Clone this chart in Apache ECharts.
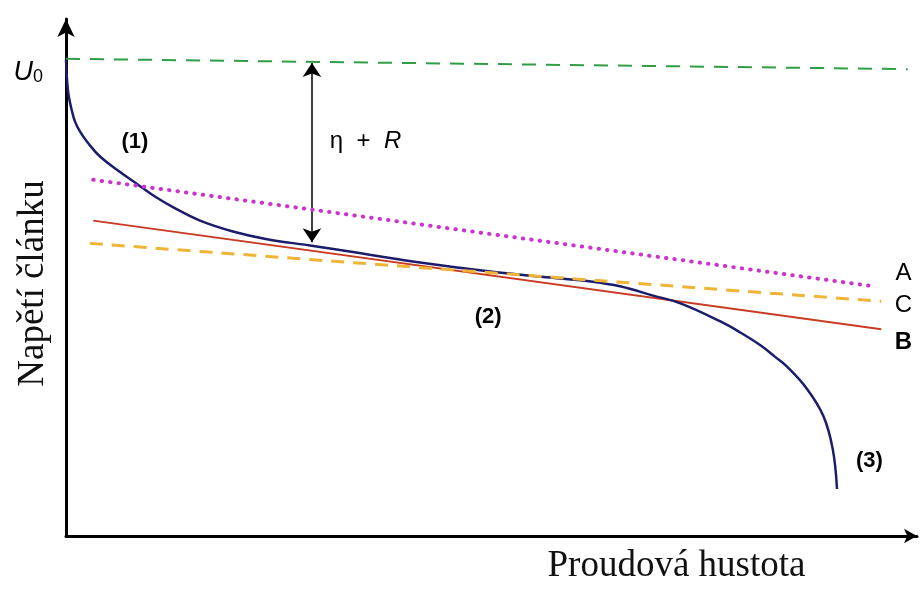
<!DOCTYPE html>
<html><head><meta charset="utf-8">
<script src="https://cdn.jsdelivr.net/npm/echarts@6/dist/echarts.min.js"></script>
<style>html,body{margin:0;padding:0;background:#fff}#c{width:923px;height:590px}</style>
</head><body><div id="c"></div>
<script>
// polarization curve: current density (x) vs cell voltage (y), arbitrary units
const curveX = [0, 0.15, 0.32, 0.67, 1.05, 1.65, 2.59, 4.0, 6.35, 8.34, 10.22, 12.57, 15.75, 19.62, 23.62, 28.67, 32.2, 41.6, 50.6, 56.9, 61.9, 65.1, 69.0, 72.2, 76.9, 79.2, 81.6, 83.3, 84.7, 87.1, 89.0, 90.1, 90.6];
const curveY = [92.2, 87.6, 85.1, 82.4, 80.2, 78.2, 76.0, 73.4, 70.4, 68.1, 65.9, 63.6, 61.0, 58.9, 57.4, 56.2, 55.3, 52.9, 51.0, 50.0, 49.2, 48.3, 46.5, 45.0, 41.5, 39.4, 36.9, 34.7, 32.8, 28.4, 23.2, 16.8, 9.1];
// open circuit voltage U0
const u0X = [0, 98.9];
const u0Y = [92.3, 90.3];
// straight lines A, B, C
const lineAX = [3.2, 94.9];
const lineAY = [68.9, 48.3];
const lineBX = [3.2, 95.8];
const lineBY = [61.0, 40.0];
const lineCX = [2.8, 95.8];
const lineCY = [56.6, 45.4];
// eta + R double arrow
const gapX = 28.9;
const gapY = [91.5, 56.8];
// annotation texts
const labelText = ['(1)', 'η + R', '(2)', '(3)', 'A', 'C', 'B'];
const labelX = [8.1, 35.2, 49.6, 94.4, 98.4, 98.4, 98.4];
const labelY = [76.3, 76.4, 42.3, 14.5, 50.8, 44.6, 37.5];

const zip = (xs, ys) => xs.map((x, i) => [x, ys[i]]);
const sans = 'Liberation Sans';
const serif = 'Liberation Serif';

const labelStyles = {
  '(1)': {fontSize: 22, fontWeight: 'bold'},
  '(2)': {fontSize: 22, fontWeight: 'bold'},
  '(3)': {fontSize: 22, fontWeight: 'bold'},
  'A': {fontSize: 24},
  'B': {fontSize: 24, fontWeight: 'bold'},
  'C': {fontSize: 24},
  'η + R': {fontSize: 24, formatter: '{n|η  +  }{r|R}', rich: {n: {fontSize: 24, fontFamily: sans, color: '#000'}, r: {fontSize: 24, fontFamily: sans, fontStyle: 'italic', color: '#000'}}}
};

const labelData = labelText.map((t, i) => ({
  value: [labelX[i], labelY[i]],
  name: t,
  label: Object.assign({show: true, position: 'inside', formatter: t, color: '#000', fontFamily: sans, opacity: 1}, labelStyles[t])
}));

const u0Data = zip(u0X, u0Y).map((p, i) => i === 0 ? {
  value: p,
  label: {show: true, position: 'left', distance: 23, offset: [0, 13],
    formatter: '{u|U}{s|0}',
    rich: {u: {fontSize: 27, fontStyle: 'italic', fontFamily: sans, color: '#000', lineHeight: 28, verticalAlign: 'bottom'},
           s: {fontSize: 18, fontFamily: sans, color: '#000', verticalAlign: 'bottom', lineHeight: 28}}}
} : {value: p});

const chart = echarts.init(document.getElementById('c'), null, {renderer: 'canvas'});
chart.setOption({
  animation: false,
  backgroundColor: '#fff',
  grid: {left: 66, right: 6, top: 19, bottom: 53},
  xAxis: {
    type: 'value', min: 0, max: 100,
    axisLine: {show: true, onZero: false, symbol: ['none', 'arrow'], symbolSize: [11, 13], lineStyle: {color: '#000', width: 3}},
    axisTick: {show: false}, axisLabel: {show: false}, splitLine: {show: false},
    name: 'Proudová hustota', nameLocation: 'middle', nameGap: 12,
    nameTextStyle: {fontFamily: serif, fontSize: 37, color: '#111', padding: [0, 0, 0, 370]}
  },
  yAxis: {
    type: 'value', min: 0, max: 100,
    axisLine: {show: true, onZero: false, symbol: ['none', 'arrow'], symbolSize: [13, 18], lineStyle: {color: '#000', width: 3}},
    axisTick: {show: false}, axisLabel: {show: false}, splitLine: {show: false},
    name: 'Napětí článku', nameLocation: 'middle', nameGap: 14,
    nameTextStyle: {fontFamily: serif, fontSize: 37, color: '#111', padding: [0, 12, 0, 0]}
  },
  series: [
    {type: 'line', name: 'B', data: zip(lineBX, lineBY), showSymbol: false, symbol: 'none',
     lineStyle: {color: '#c93a23', width: 2}, z: 2},
    {type: 'line', name: 'curve', data: zip(curveX, curveY), showSymbol: false, symbol: 'none',
     smooth: 0.4,
     lineStyle: {color: '#1b1c6b', width: 2.5}, z: 3},
    {type: 'line', name: 'C', data: zip(lineCX, lineCY), showSymbol: false, symbol: 'none',
     lineStyle: {color: '#f0b437', width: 3, type: [13, 9]}, z: 4},
    {type: 'line', name: 'A', data: zip(lineAX, lineAY), showSymbol: false, symbol: 'none',
     lineStyle: {color: '#cc33cc', width: 4, type: [0.5, 8], cap: 'round'}, z: 5},
    {type: 'line', name: 'U0', data: u0Data, showSymbol: true, symbol: 'circle', symbolSize: 0,
     lineStyle: {color: '#2f9e44', width: 2, type: [14, 10]}, z: 5},
    {type: 'scatter', name: 'labels', data: labelData, symbolSize: 0, z: 6,
     itemStyle: {opacity: 1},
     markLine: {silent: true, symbol: ['arrow', 'arrow'], symbolSize: 14,
       lineStyle: {color: '#000', width: 1.5, type: 'solid'}, label: {show: false},
       data: [[{coord: [gapX, gapY[0]]}, {coord: [gapX, gapY[1]]}]]}}
  ]
});
</script>
</body></html>
